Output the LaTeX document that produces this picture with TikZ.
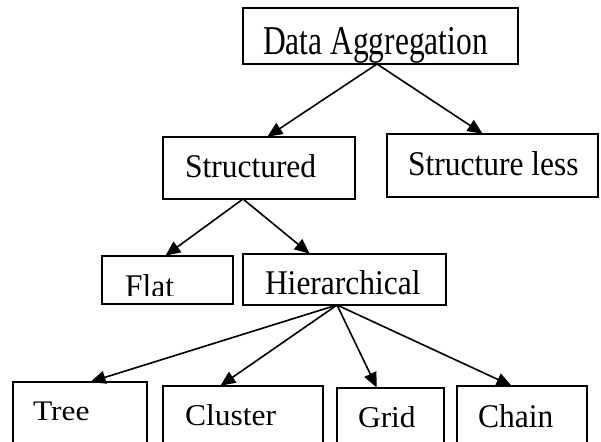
\documentclass[tikz,border=0pt]{standalone}
\usepackage{fontspec}
\setmainfont{Liberation Serif}
\usetikzlibrary{arrows.meta}

\tikzset{
  box/.style={draw, line width=1.9pt, rectangle, inner sep=0pt, outer sep=0pt},
  lbl/.style={anchor=base west, inner sep=0pt, outer sep=0pt,
              font=\fontsize{31.5}{36}\selectfont},
  arr/.style={line width=1.6pt, -{Triangle[length=15pt,width=13pt]}, shorten >=0.5pt}
}

\begin{document}
\begin{tikzpicture}[x=1pt, y=-1pt]
  \useasboundingbox (0,0) rectangle (601,441);
  \clip (0,0) rectangle (601,441);

  % boxes (centre, width, height)
  \node[box, minimum width=275pt, minimum height=56pt] (da) at (380.5,36) {};
  \node[box, minimum width=192pt, minimum height=62pt] (st) at (259,168) {};
  \node[box, minimum width=211pt, minimum height=63pt] (sl) at (492.5,165.5) {};
  \node[box, minimum width=131pt, minimum height=48pt] (fl) at (167.5,280) {};
  \node[box, minimum width=203pt, minimum height=51pt] (hi) at (344.5,279.5) {};
  \node[box, minimum width=134pt, minimum height=88pt] (tr) at (80,426) {};
  \node[box, minimum width=160pt, minimum height=84pt] (cl) at (243,428) {};
  \node[box, minimum width=107pt, minimum height=82pt] (gr) at (390.5,429) {};
  \node[box, minimum width=130pt, minimum height=84pt] (ch) at (522,428) {};

  % labels
  \node[lbl] (dat) at (263,55) {\scalebox{1}[1.3]{Data Aggregation}};
  \node[lbl] (stt) at (185,177) {\scalebox{1}[1.05]{Structured}};
  \node[lbl] (slt) at (408,175) {\scalebox{1}[1.1]{Structure less}};
  \begin{scope}
    \clip (102,256) rectangle (233,295);
    \node[lbl] (flt) at (125,297) {\scalebox{1}[1.05]{Flat}};
  \end{scope}
  \node[lbl] (hit) at (265,294) {\scalebox{1}[1.1]{Hierarchical}};
  \node[lbl] (trt) at (33,420) {\scalebox{1}[0.9]{Tree}};
  \node[lbl] (clt) at (185,425) {\scalebox{1}[0.96]{Cluster}};
  \node[lbl] (grt) at (358,427) {\scalebox{1}[0.96]{Grid}};
  \node[lbl] (cht) at (478,427) {\scalebox{1}[1.05]{Chain}};

  % connectors
  \draw[arr] ([xshift=-3.5pt]da.south) -- ([xshift=8pt]st.north);
  \draw[arr] ([xshift=-3.5pt]da.south) -- ([xshift=-9.5pt]sl.north);
  \draw[arr] ([xshift=-16pt]st.south) -- ([xshift=-2.5pt]fl.north);
  \draw[arr] ([xshift=-16pt]st.south) -- ([xshift=-34.5pt]hi.north);
  \draw[arr] ([xshift=-7.5pt]hi.south) -- ([xshift=10pt]tr.north);
  \draw[arr] ([xshift=-7.5pt]hi.south) -- ([xshift=-23pt]cl.north);
  \draw[arr] ([xshift=-7.5pt]hi.south) -- ([xshift=-13.5pt]gr.north);
  \draw[arr] ([xshift=-7.5pt]hi.south) -- ([xshift=-10pt]ch.north);
\end{tikzpicture}
\end{document}
